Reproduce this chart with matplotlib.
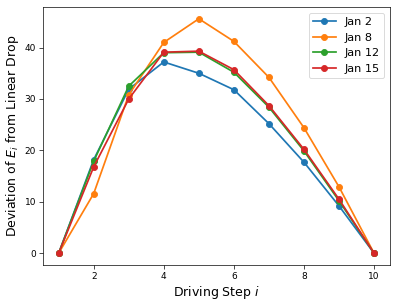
import matplotlib
matplotlib.use("Agg")
import matplotlib.pyplot as plt

steps = [1, 2, 3, 4, 5, 6, 7, 8, 9, 10]
jan2 = [0, 18.2, 31.9, 37.2, 35.0, 31.8, 25.2, 17.7, 9.2, 0]
jan8 = [0, 11.6, 30.8, 41.0, 45.6, 41.2, 34.2, 24.4, 12.9, 0]
jan12 = [0, 17.9, 32.5, 39.0, 39.1, 35.2, 28.4, 19.9, 10.2, 0]
jan15 = [0, 16.8, 30.0, 39.1, 39.3, 35.7, 28.7, 20.2, 10.5, 0]
labels = ["Jan 2", "Jan 8", "Jan 12", "Jan 15"]

# drawn at the usual 6.4in width, saved small
dpi = 62.03
fig = plt.figure(figsize=(397 / dpi, 306 / dpi), dpi=dpi)
ax = fig.add_axes([0.108, 0.134, 0.874, 0.843])
for vals, lab in zip([jan2, jan8, jan12, jan15], labels):
    ax.plot(steps, vals, marker="o", markersize=7, linewidth=2, label=lab)

ax.set_xticks([2, 4, 6, 8, 10])
ax.set_yticks([0, 10, 20, 30, 40])
ax.tick_params(labelsize=10.5, length=4.5)
ax.set_xlabel("Driving Step $i$", fontsize=14.5)
ax.set_ylabel("Deviation of $E_i$ from Linear Drop", fontsize=14.5)
ax.legend(fontsize=13)
fig.savefig("out.png", dpi=dpi)
